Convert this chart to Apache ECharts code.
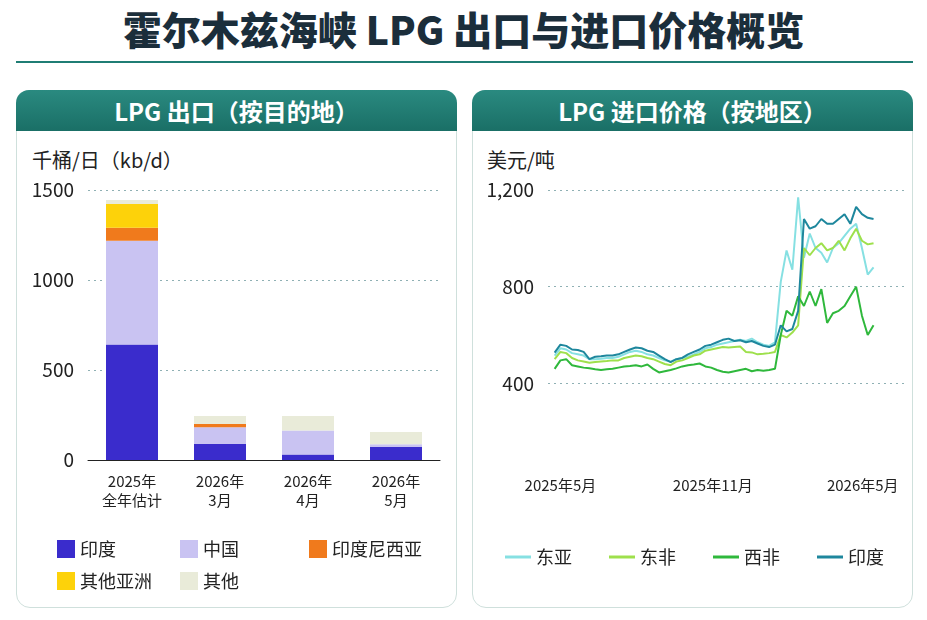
<!DOCTYPE html>
<html>
<head>
<meta charset="utf-8">
<script src="https://cdn.jsdelivr.net/npm/echarts@6/dist/echarts.min.js"></script>
<style>
  body { margin:0; background:#fff; font-family:"Noto Sans CJK SC","Noto Sans",sans-serif; }
  #wrap { position:relative; width:927px; height:620px; overflow:hidden; }
  .title { position:absolute; left:0; top:2px; width:927px; text-align:center; font-size:39px; font-weight:900; color:#1b2e3b; line-height:52px; }
  .rule { position:absolute; left:16px; top:61px; width:897px; height:2px; background:#1f7d74; }
  .panel { position:absolute; top:90px; width:441px; height:518px; border:1.5px solid #cfe0dc; border-radius:14px; box-sizing:border-box; }
  .head { position:absolute; left:-1px; top:-1px; right:-1px; height:41px; border-radius:13px 13px 0 0; background:linear-gradient(#2a8a80,#1a6f66); color:#fff; font-size:24px; font-weight:bold; text-align:center; line-height:41px; }
  .unit { position:absolute; font-size:20px; color:#222; }
  #chart { position:absolute; left:0; top:0; width:927px; height:620px; }
</style>
</head>
<body>
<div id="wrap">
  <div class="title">霍尔木兹海峡 LPG 出口与进口价格概览</div>
  <div class="rule"></div>
  <div class="panel" style="left:16px"><div class="head">LPG 出口（按目的地）</div></div>
  <div class="panel" style="left:472px"><div class="head">LPG 进口价格（按地区）</div></div>
  <div class="unit" style="left:32px;top:145px">千桶/日（kb/d）</div>
  <div class="unit" style="left:487px;top:145px">美元/吨</div>
  <div id="chart"></div>
</div>
<script>
// 左图：LPG 出口（按目的地）
var exportCats = ['2025年\n全年估计', '2026年\n3月', '2026年\n4月', '2026年\n5月'];
var india = [642, 90, 31, 73];
var china = [576, 92, 133, 14];
var indonesia = [72, 18, 0, 0];
var otherAsia = [132, 0, 0, 0];
var other = [23, 45, 81, 68];

// 右图：进口价格（周度，美元/吨）
var priceStart = '2025-04-24';
var eastAsia = [515,545,540,525,520,515,500,500,502,505,505,510,520,530,535,530,520,515,505,495,490,500,505,510,520,530,545,550,560,565,570,575,580,575,585,570,560,555,570,820,950,870,1170,920,1020,960,940,900,960,980,1010,1040,1060,960,850,880];
var eastAfrica = [500,530,525,505,495,490,485,488,490,492,495,495,505,510,515,512,505,500,490,480,475,490,495,505,515,520,535,540,545,550,548,550,552,530,528,520,522,525,530,600,590,610,640,960,930,960,980,950,960,990,950,1000,1040,990,975,980];
var westAfrica = [460,495,500,475,470,465,462,458,455,458,460,465,470,472,475,470,478,460,445,450,455,462,470,475,478,482,470,465,455,448,445,450,455,460,450,455,452,455,460,600,700,680,760,720,780,720,790,650,690,700,720,760,800,680,600,640];
var indiaPrice = [527,560,555,540,538,530,500,510,512,515,515,520,530,540,548,545,535,530,515,500,488,500,505,520,530,540,555,560,570,580,585,575,578,570,575,565,555,550,560,640,615,625,700,1080,1040,1050,1080,1060,1060,1080,1100,1060,1130,1100,1085,1080];

function weekly(vals) {
  var t0 = new Date(priceStart).getTime();
  return vals.map(function (v, i) { return [t0 + i * 7 * 86400000, v]; });
}

var barColors = ['#3a2ccc', '#c9c3f2', '#f07a1c', '#fdd20a', '#e9ebd9'];
var lineColors = ['#86e0e2', '#9ee04c', '#2fb83c', '#1e879d'];
var dotted = { lineStyle: { type: [2, 4], color: '#8fb0b4' } };

function legendAt(name, left, top, icon) {
  return { data: [name], left: left, top: top, icon: icon || 'rect', itemWidth: icon ? 26 : 18, itemHeight: icon ? 3 : 18,
    textStyle: { fontSize: 18, color: '#222' }, itemGap: 8 };
}

function bar(name, data, i) {
  return { name: name, type: 'bar', stack: 'a', data: data, barWidth: 52, xAxisIndex: 0, yAxisIndex: 0,
    itemStyle: { color: barColors[i] } };
}
function line(name, data, i) {
  return { name: name, type: 'line', data: weekly(data), xAxisIndex: 1, yAxisIndex: 1, showSymbol: false,
    lineStyle: { width: 2, color: lineColors[i] }, itemStyle: { color: lineColors[i] } };
}

var chart = echarts.init(document.getElementById('chart'));
chart.setOption({
  animation: false,
  textStyle: { fontFamily: 'Noto Sans CJK SC' },
  legend: [
    legendAt('印度', 52, 535), legendAt('中国', 175, 535), legendAt('印度尼西亚', 304, 535),
    legendAt('其他亚洲', 52, 567), legendAt('其他', 175, 567),
    legendAt('东亚', 500, 543, 'rect'), legendAt('东非', 604, 543, 'rect'),
    legendAt('西非', 708, 543, 'rect'), legendAt('印度 ', 812, 543, 'rect')
  ],
  grid: [
    { left: 88, right: 487, top: 190, bottom: 160 },
    { left: 548, right: 22, top: 190, bottom: 140 }
  ],
  xAxis: [
    { type: 'category', gridIndex: 0, data: exportCats,
      axisLine: { lineStyle: { color: '#222' } }, axisTick: { show: false },
      axisLabel: { fontSize: 15, color: '#222', lineHeight: 19, margin: 12 } },
    { type: 'time', gridIndex: 1, min: '2025-04-16', max: '2026-06-21', splitNumber: 14,
      axisLine: { show: false }, axisTick: { show: false }, splitLine: { show: false },
      axisLabel: { fontSize: 15, color: '#222', margin: -2, hideOverlap: false,
        formatter: function (v) {
          var d = new Date(v);
          var m = d.getMonth() + 1;
          if (d.getDate() !== 1 || (m !== 5 && m !== 11)) return '';
          return d.getFullYear() + '年' + m + '月';
        } } }
  ],
  yAxis: [
    { type: 'value', gridIndex: 0, min: 0, max: 1500, interval: 500,
      axisLine: { show: false }, axisTick: { show: false },
      axisLabel: { fontSize: 19, color: '#222', margin: 14, formatter: function (v) { return String(v); } },
      splitLine: dotted },
    { type: 'value', gridIndex: 1, min: 0, max: 1200, interval: 400,
      axisLine: { show: false }, axisTick: { show: false },
      axisLabel: { fontSize: 19, color: '#222', margin: 14,
        formatter: function (v) { return v === 0 ? '' : v.toLocaleString('en-US'); } },
      splitLine: { show: true, showMinLine: false, lineStyle: dotted.lineStyle } }
  ],
  series: [
    bar('印度', india, 0), bar('中国', china, 1), bar('印度尼西亚', indonesia, 2),
    bar('其他亚洲', otherAsia, 3), bar('其他', other, 4),
    line('东亚', eastAsia, 0), line('东非', eastAfrica, 1), line('西非', westAfrica, 2), line('印度 ', indiaPrice, 3)
  ]
});
</script>
</body>
</html>
